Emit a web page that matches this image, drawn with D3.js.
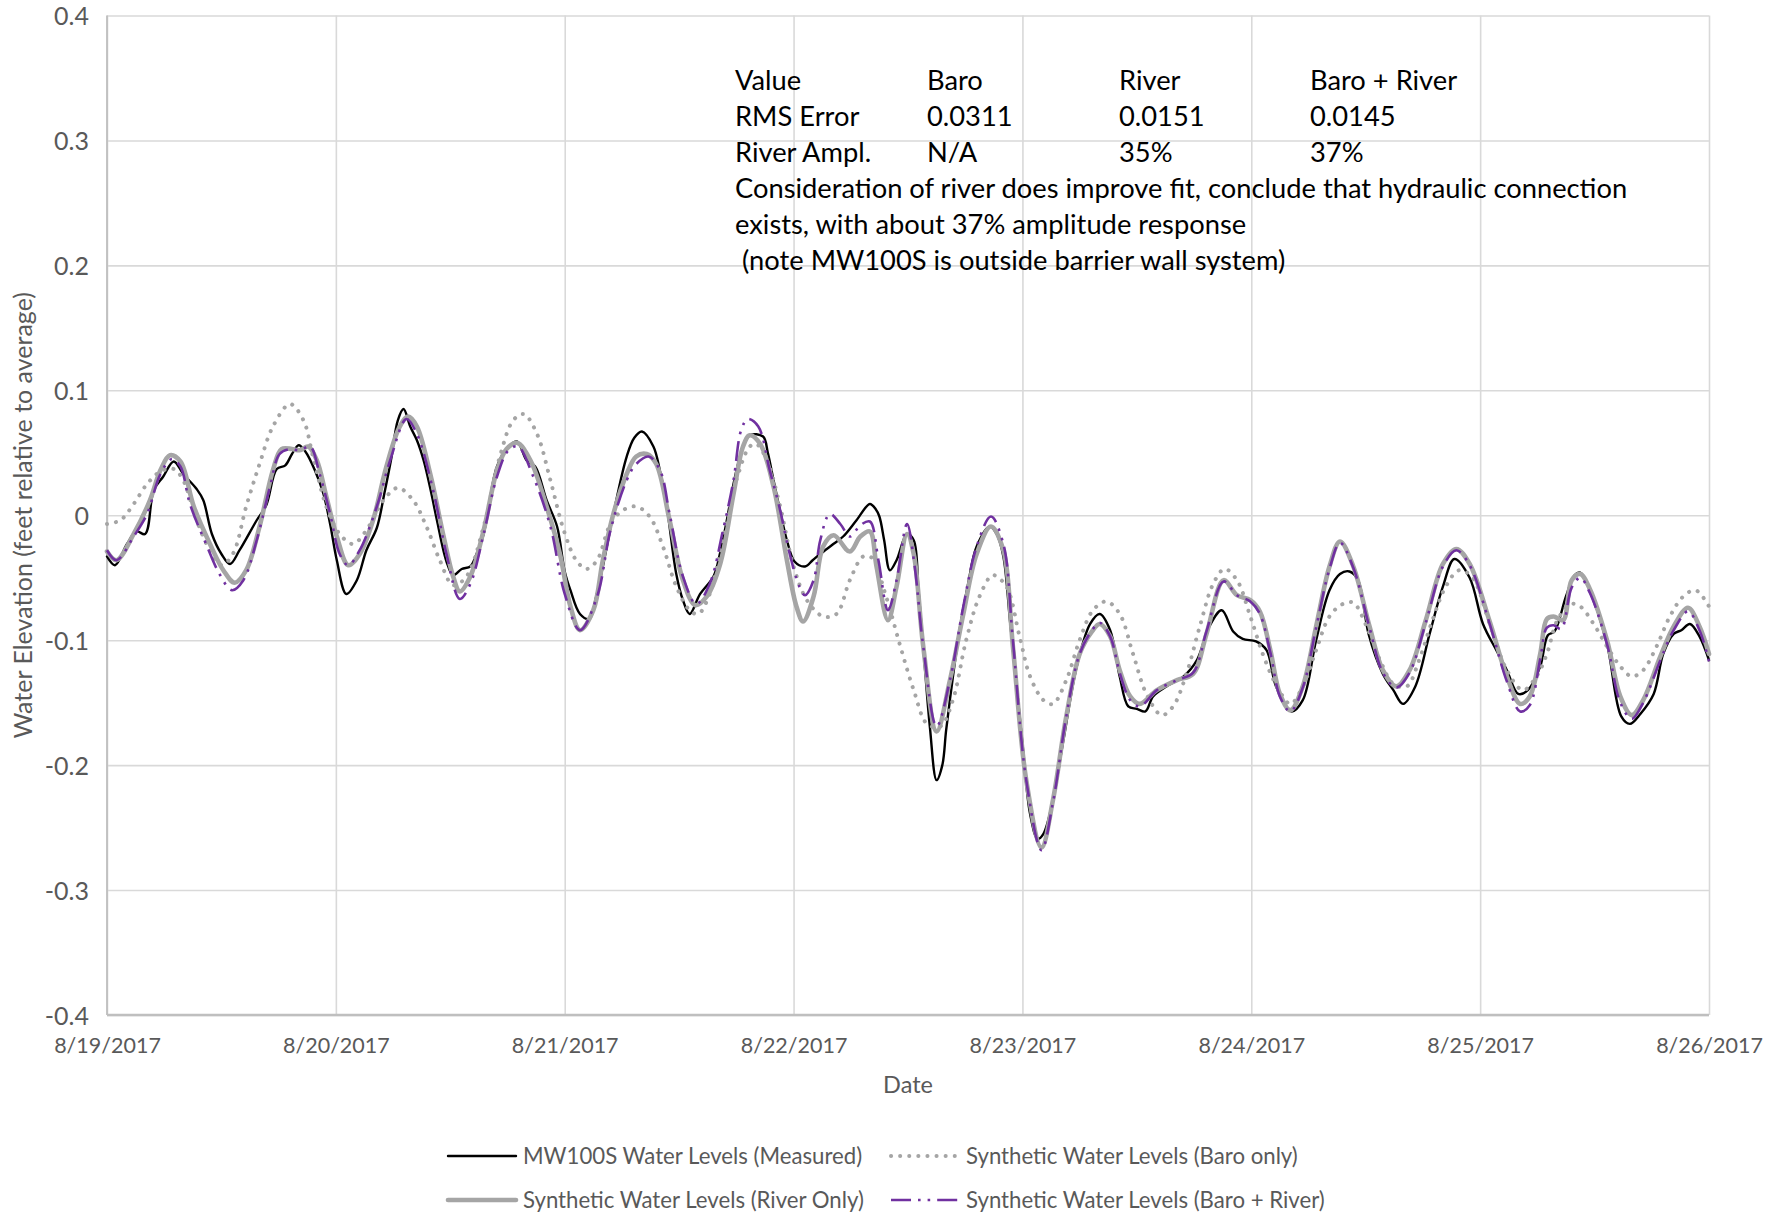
<!DOCTYPE html>
<html>
<head>
<meta charset="utf-8">
<script src="https://cdn.jsdelivr.net/npm/d3@7"></script>
<style>
  body { margin: 0; background: #fff; }
  text { font-family: Lato, "Open Sans", sans-serif; }
</style>
</head>
<body>
<div id="vis"></div>
<script>
// ---- data (hours after 8/19/2017 00:00, feet relative to average) ----
const hoursMeasured = [0,0.84,2.1,3.1,4.0,4.9,5.9,7.0,8.0,9.4,10.1,11.0,12.0,12.9,13.9,15.7,16.7,17.8,18.7,19.4,20.1,20.8,21.8,22.7,23.4,24.1,25.1,26.2,27.2,28.3,29.1,29.8,30.5,31.1,31.8,32.5,33.2,34.0,34.6,35.6,36.3,37.2,38.1,38.7,39.5,40.2,40.9,41.9,43.0,44.0,44.9,46.1,47.2,48.0,48.6,49.6,50.6,51.3,52.0,53.1,54.5,55.3,56.1,57.3,58.0,58.7,59.7,60.4,61.1,62.2,63.6,64.3,65.0,65.7,66.4,67.4,68.8,69.3,69.9,70.6,71.3,72.1,73.2,74.0,74.8,76.0,77.2,78.6,80.0,80.6,81.0,81.5,82.1,82.8,83.9,84.6,85.1,85.6,86.3,87.0,87.6,88.0,88.7,89.4,90.3,91.2,92.6,93.3,94.0,94.7,95.4,96.1,96.8,97.6,98.2,99.2,100.3,101.7,103.1,104.1,105.2,106.2,107.1,108.0,108.9,109.7,111.1,112.9,114.3,115.6,116.9,118.1,119.1,120.5,121.6,122.6,124.2,125.4,126.8,128.2,129.3,130.3,131.2,132.3,133.8,134.9,135.9,137.2,138.7,140.1,141.3,142.9,144.3,145.7,146.8,148.0,149.0,150.3,151.1,151.8,153.0,153.9,154.5,155.5,157.3,158.8,159.7,160.8,162.2,163.2,164.3,165.1,166.0,167.0,168.0];
const measured = [-0.033,-0.040,-0.023,-0.013,-0.015,0.020,0.031,0.043,0.033,0.021,0.012,-0.015,-0.031,-0.039,-0.028,-0.004,0.008,0.037,0.040,0.049,0.056,0.051,0.036,0.017,-0.007,-0.036,-0.063,-0.052,-0.028,-0.010,0.018,0.045,0.076,0.085,0.071,0.060,0.044,0.018,-0.004,-0.037,-0.048,-0.043,-0.041,-0.032,-0.015,0.015,0.039,0.053,0.059,0.044,0.039,0.012,-0.009,-0.045,-0.060,-0.079,-0.083,-0.065,-0.041,0.001,0.047,0.062,0.067,0.055,0.035,0.007,-0.047,-0.068,-0.079,-0.063,-0.049,-0.030,-0.004,0.025,0.047,0.064,0.063,0.050,0.028,0.003,-0.020,-0.037,-0.041,-0.036,-0.031,-0.024,-0.017,-0.004,0.009,0.005,-0.001,-0.020,-0.044,-0.036,-0.015,-0.020,-0.060,-0.105,-0.170,-0.212,-0.200,-0.172,-0.130,-0.092,-0.055,-0.025,-0.009,-0.015,-0.033,-0.085,-0.137,-0.190,-0.239,-0.259,-0.255,-0.228,-0.180,-0.121,-0.087,-0.079,-0.092,-0.129,-0.153,-0.155,-0.157,-0.145,-0.137,-0.129,-0.116,-0.089,-0.076,-0.093,-0.099,-0.101,-0.108,-0.137,-0.157,-0.148,-0.100,-0.060,-0.047,-0.045,-0.052,-0.095,-0.127,-0.140,-0.151,-0.137,-0.095,-0.057,-0.035,-0.050,-0.087,-0.108,-0.124,-0.143,-0.140,-0.121,-0.096,-0.093,-0.065,-0.048,-0.046,-0.060,-0.103,-0.161,-0.167,-0.159,-0.143,-0.111,-0.095,-0.092,-0.087,-0.097,-0.116];

const hoursBaro = [0,1.4,2.8,4.2,5.6,7.0,8.0,9.4,10.8,12.0,13.2,14.6,16.0,17.4,19.2,20.6,21.6,23.0,24.4,25.8,27.2,29.0,30.5,32.1,33.5,34.9,36.3,37.7,39.5,41.2,42.6,43.7,45.1,46.5,47.9,49.2,50.3,51.4,52.8,54.1,55.5,56.9,58.3,59.7,61.1,62.0,63.2,64.6,66.0,67.4,68.1,69.2,70.6,72.0,73.4,75.1,76.5,77.9,79.3,80.2,81.7,83.2,84.6,86.0,87.4,88.7,90.1,91.5,92.9,94.3,95.7,96.8,98.2,99.2,100.6,102.0,103.4,104.8,106.2,107.6,109.0,110.6,111.8,113.2,114.6,116.0,117.2,118.5,119.9,121.3,122.7,124.1,125.4,126.8,128.2,129.6,130.7,132.1,133.5,134.9,136.3,137.6,139.0,140.4,141.8,143.2,145.0,146.8,148.5,149.9,151.0,152.1,153.5,154.5,155.9,157.3,158.7,159.9,161.1,162.5,163.9,165.3,166.6,168.0];
const baroOnly = [-0.007,-0.004,0.009,0.025,0.035,0.037,0.028,-0.004,-0.028,-0.040,-0.031,0.007,0.041,0.071,0.089,0.076,0.047,0.007,-0.015,-0.023,-0.012,0.012,0.022,0.012,-0.009,-0.036,-0.056,-0.049,-0.009,0.047,0.076,0.081,0.065,0.028,-0.012,-0.036,-0.043,-0.036,-0.007,0.004,0.007,-0.001,-0.025,-0.057,-0.076,-0.079,-0.063,-0.017,0.028,0.055,0.057,0.044,0.007,-0.041,-0.068,-0.081,-0.079,-0.052,-0.033,-0.034,-0.065,-0.105,-0.140,-0.167,-0.169,-0.148,-0.100,-0.065,-0.048,-0.057,-0.097,-0.129,-0.148,-0.151,-0.132,-0.100,-0.076,-0.069,-0.079,-0.111,-0.143,-0.160,-0.153,-0.127,-0.089,-0.055,-0.043,-0.052,-0.081,-0.113,-0.137,-0.151,-0.137,-0.108,-0.081,-0.071,-0.070,-0.089,-0.116,-0.135,-0.137,-0.116,-0.084,-0.057,-0.044,-0.050,-0.087,-0.124,-0.140,-0.129,-0.111,-0.084,-0.071,-0.073,-0.087,-0.105,-0.121,-0.129,-0.124,-0.105,-0.081,-0.065,-0.060,-0.073];

const hoursRiver = [0,1.0,2.8,4.5,5.6,6.6,7.7,9.1,10.8,12.2,13.4,14.6,16.0,17.4,18.3,19.4,20.2,21.1,22.0,23.0,24.1,25.3,26.5,27.9,29.3,30.7,31.6,32.5,33.9,35.3,36.3,37.0,38.1,39.5,40.9,41.9,43.0,44.4,46.1,47.5,48.6,49.6,51.0,52.0,53.1,54.5,55.5,56.6,57.6,59.0,60.4,61.7,62.9,64.3,65.7,66.7,67.4,68.5,69.9,71.3,72.3,73.0,74.1,75.1,76.2,77.9,79.0,80.0,80.7,81.9,82.8,83.9,84.6,85.6,87.0,88.4,89.8,91.2,92.7,94.0,95.0,96.4,98.0,99.2,100.6,102.0,103.3,104.1,105.2,106.2,107.3,108.3,110.1,112.2,113.9,115.3,117.1,118.5,119.9,120.9,122.0,123.0,124.1,125.4,126.8,128.2,129.3,130.7,132.4,133.8,135.2,136.6,138.3,140.1,141.5,142.9,145.0,146.8,148.2,149.2,150.3,151.0,151.7,152.7,153.6,154.5,155.5,157.3,158.7,159.9,161.1,162.9,164.3,165.8,167.0,168.0];
const riverOnly = [-0.029,-0.036,-0.015,0.012,0.036,0.048,0.043,0.007,-0.023,-0.044,-0.054,-0.044,-0.009,0.036,0.053,0.053,0.052,0.055,0.044,0.015,-0.017,-0.040,-0.031,-0.004,0.039,0.071,0.079,0.071,0.033,-0.017,-0.049,-0.061,-0.049,-0.012,0.036,0.053,0.058,0.044,0.007,-0.031,-0.073,-0.092,-0.076,-0.036,0.001,0.033,0.047,0.049,0.041,-0.004,-0.052,-0.072,-0.065,-0.039,0.017,0.055,0.064,0.057,0.023,-0.036,-0.073,-0.085,-0.065,-0.025,-0.016,-0.029,-0.017,-0.013,-0.041,-0.084,-0.057,-0.015,-0.031,-0.105,-0.173,-0.132,-0.079,-0.031,-0.009,-0.028,-0.105,-0.212,-0.266,-0.228,-0.161,-0.111,-0.093,-0.087,-0.097,-0.124,-0.145,-0.151,-0.140,-0.132,-0.127,-0.095,-0.052,-0.064,-0.068,-0.077,-0.108,-0.143,-0.156,-0.137,-0.089,-0.041,-0.021,-0.041,-0.089,-0.124,-0.137,-0.124,-0.084,-0.039,-0.027,-0.039,-0.085,-0.129,-0.151,-0.145,-0.111,-0.083,-0.081,-0.084,-0.052,-0.047,-0.059,-0.100,-0.145,-0.160,-0.148,-0.113,-0.089,-0.074,-0.089,-0.111];

const hoursBaroRiver = [0,1.0,2.8,4.2,5.6,6.8,7.7,8.7,10.5,11.8,13.1,14.3,15.7,17.1,18.1,19.2,20.2,21.3,22.3,23.4,24.4,25.3,26.5,28.3,29.7,31.4,32.5,34.2,35.6,37.0,38.1,39.5,40.9,42.1,43.1,44.7,46.5,48.0,49.6,51.4,52.8,54.5,55.5,56.8,58.0,59.0,60.4,61.8,63.2,64.6,65.7,66.5,67.2,68.3,69.5,70.5,71.6,72.6,73.2,74.1,74.8,75.8,76.9,77.9,79.0,80.0,80.9,81.9,82.8,83.9,84.7,85.6,87.0,88.4,89.8,91.2,92.7,94.0,95.0,96.4,98.0,99.2,100.6,102.0,103.3,104.1,105.2,106.2,107.3,108.3,110.1,112.2,113.9,115.3,117.1,118.5,119.9,120.9,122.0,123.0,124.1,125.4,126.8,128.2,129.3,130.7,132.4,133.8,135.2,136.6,138.3,140.1,141.5,142.9,145.0,146.8,148.2,149.2,150.3,151.0,151.7,152.5,153.6,154.5,155.5,157.3,158.7,159.9,161.1,162.9,164.3,165.8,167.0,168.0];
const baroRiver = [-0.028,-0.036,-0.017,0.001,0.033,0.045,0.039,0.009,-0.025,-0.047,-0.060,-0.052,-0.020,0.023,0.049,0.053,0.052,0.055,0.033,0.001,-0.031,-0.040,-0.028,0.007,0.044,0.077,0.065,0.020,-0.031,-0.067,-0.055,-0.015,0.031,0.052,0.055,0.031,-0.009,-0.063,-0.092,-0.065,-0.012,0.028,0.041,0.047,0.036,0.001,-0.049,-0.071,-0.055,-0.012,0.028,0.068,0.077,0.071,0.036,0.007,-0.031,-0.057,-0.064,-0.052,-0.020,0.001,-0.007,-0.017,-0.008,-0.005,-0.036,-0.076,-0.052,-0.007,-0.041,-0.105,-0.169,-0.132,-0.073,-0.025,-0.001,-0.023,-0.100,-0.212,-0.268,-0.230,-0.161,-0.111,-0.092,-0.086,-0.097,-0.126,-0.148,-0.153,-0.140,-0.132,-0.126,-0.093,-0.053,-0.064,-0.069,-0.079,-0.110,-0.145,-0.157,-0.138,-0.090,-0.043,-0.022,-0.042,-0.090,-0.126,-0.138,-0.126,-0.086,-0.041,-0.028,-0.040,-0.087,-0.133,-0.157,-0.152,-0.115,-0.090,-0.088,-0.091,-0.058,-0.050,-0.062,-0.103,-0.150,-0.163,-0.150,-0.116,-0.092,-0.077,-0.092,-0.117];

const seriesNames = ["MW100S Water Levels (Measured)", "Synthetic Water Levels (Baro only)",
                     "Synthetic Water Levels (River Only)", "Synthetic Water Levels (Baro + River)"];
const yTicks = [-0.4, -0.3, -0.2, -0.1, 0, 0.1, 0.2, 0.3, 0.4];
const yTickLabels = ["-0.4", "-0.3", "-0.2", "-0.1", "0", "0.1", "0.2", "0.3", "0.4"];
const tableRows = [["Value", "Baro", "River", "Baro + River"],
                   ["RMS Error", "0.0311", "0.0151", "0.0145"],
                   ["River Ampl.", "N/A", "35%", "37%"]];
const noteLines = ["Consideration of river does improve fit, conclude that hydraulic connection",
                   "exists, with about 37% amplitude response",
                   " (note MW100S is outside barrier wall system)"];

// ---- frame ----
const FRAME_WIDTH = 1782;
const FRAME_HEIGHT = 1216;
const MARGINS = {left: 107, right: 73, top: 15.5, bottom: 201};
const VIS_WIDTH = FRAME_WIDTH - MARGINS.left - MARGINS.right;
const VIS_HEIGHT = FRAME_HEIGHT - MARGINS.top - MARGINS.bottom;

const START = new Date(2017, 7, 19);
const END = new Date(2017, 7, 26);
const toDate = (h) => new Date(START.getTime() + h * 3600 * 1000);

const FRAME = d3.select("#vis")
  .append("svg")
    .attr("width", FRAME_WIDTH)
    .attr("height", FRAME_HEIGHT)
    .style("background", "#fff");

const X_SCALE = d3.scaleTime().domain([START, END]).range([MARGINS.left, MARGINS.left + VIS_WIDTH]);
const Y_SCALE = d3.scaleLinear().domain([-0.4, 0.4]).range([MARGINS.top + VIS_HEIGHT, MARGINS.top]);

// gridlines
FRAME.append("g")
  .attr("transform", "translate(" + MARGINS.left + ",0)")
  .call(d3.axisLeft(Y_SCALE).tickValues(yTicks).tickSize(-VIS_WIDTH).tickFormat(""))
  .call(g => g.select(".domain").remove())
  .selectAll("line").attr("stroke", "#d9d9d9").attr("stroke-width", 1.6);

FRAME.append("g")
  .attr("transform", "translate(0," + (MARGINS.top + VIS_HEIGHT) + ")")
  .call(d3.axisBottom(X_SCALE).ticks(d3.timeDay.every(1)).tickSize(-VIS_HEIGHT).tickFormat(""))
  .call(g => g.select(".domain").remove())
  .selectAll("line").attr("stroke", "#d9d9d9").attr("stroke-width", 1.6);

// axis lines
FRAME.append("line")
  .attr("x1", MARGINS.left).attr("x2", MARGINS.left)
  .attr("y1", MARGINS.top).attr("y2", MARGINS.top + VIS_HEIGHT)
  .attr("stroke", "#bfbfbf").attr("stroke-width", 1.8);
FRAME.append("line")
  .attr("x1", MARGINS.left).attr("x2", MARGINS.left + VIS_WIDTH)
  .attr("y1", MARGINS.top + VIS_HEIGHT).attr("y2", MARGINS.top + VIS_HEIGHT)
  .attr("stroke", "#bfbfbf").attr("stroke-width", 2.6);

// tick labels
const yAxis = FRAME.append("g")
  .attr("transform", "translate(" + (MARGINS.left - 15) + ",0)")
  .call(d3.axisLeft(Y_SCALE).tickValues(yTicks).tickSize(0)
        .tickFormat((d, i) => yTickLabels[i]));
yAxis.select(".domain").remove();
yAxis.selectAll("text").attr("fill", "#595959").attr("font-size", "25px")
  .attr("font-family", "Lato, sans-serif").attr("dy", "0.36em");

const xAxis = FRAME.append("g")
  .attr("transform", "translate(0," + (MARGINS.top + VIS_HEIGHT + 20) + ")")
  .call(d3.axisBottom(X_SCALE).ticks(d3.timeDay.every(1)).tickSize(0)
        .tickFormat(d3.timeFormat("%-m/%-d/%Y")));
xAxis.select(".domain").remove();
xAxis.selectAll("text").attr("fill", "#595959").attr("font-size", "21.5px")
  .attr("font-family", "Lato, sans-serif");

// axis titles
FRAME.append("text")
  .attr("x", MARGINS.left + VIS_WIDTH / 2).attr("y", 1093)
  .attr("text-anchor", "middle").attr("fill", "#595959").attr("font-size", "23.5px")
  .text("Date");
FRAME.append("text")
  .attr("transform", "translate(32," + (MARGINS.top + VIS_HEIGHT / 2) + ") rotate(-90)")
  .attr("text-anchor", "middle").attr("fill", "#595959").attr("font-size", "25px")
  .text("Water Elevation (feet relative to average)");

// series
const toPoints = (hours, vals) => hours.map((h, i) => ({t: toDate(h), v: vals[i]}));
const series = [
  toPoints(hoursMeasured, measured),
  toPoints(hoursBaro, baroOnly),
  toPoints(hoursRiver, riverOnly),
  toPoints(hoursBaroRiver, baroRiver)
];
const STYLES = [
  {stroke: "#000000", width: 2.4, dash: null, cap: "round"},
  {stroke: "#a5a5a5", width: 4, dash: "0.1 9", cap: "round"},
  {stroke: "#a5a5a5", width: 4.6, dash: null, cap: "round"},
  {stroke: "#7030a0", width: 2.6, dash: "20 7 2.6 7 2.6 7", cap: "butt"}
];

const LINE = d3.line()
  .x(d => X_SCALE(d.t))
  .y(d => Y_SCALE(d.v))
  .curve(d3.curveCatmullRom.alpha(0.5));

FRAME.selectAll(".series")
  .data(series)
  .enter()
  .append("path")
    .attr("class", "series")
    .attr("d", d => LINE(d))
    .attr("fill", "none")
    .attr("stroke", (d, i) => STYLES[i].stroke)
    .attr("stroke-width", (d, i) => STYLES[i].width)
    .attr("stroke-dasharray", (d, i) => STYLES[i].dash)
    .attr("stroke-linecap", (d, i) => STYLES[i].cap)
    .attr("stroke-linejoin", "round");

// annotation
const colX = [735, 927, 1119, 1310];
tableRows.forEach((row, r) => {
  row.forEach((cell, c) => {
    FRAME.append("text")
      .attr("x", colX[c]).attr("y", 90 + r * 36)
      .attr("font-size", "27.3px").attr("fill", "#000")
      .text(cell);
  });
});
noteLines.forEach((line, i) => {
  FRAME.append("text")
    .attr("x", colX[0]).attr("y", 90 + (tableRows.length + i) * 36)
    .attr("font-size", "27.3px").attr("fill", "#000")
    .style("white-space", "pre")
    .text(line);
});

// legend
const legendPos = [[448, 1156], [891, 1156], [448, 1200], [891, 1200]];
const legend = FRAME.selectAll(".legend")
  .data(seriesNames)
  .enter()
  .append("g")
    .attr("class", "legend")
    .attr("transform", (d, i) => "translate(" + legendPos[i][0] + "," + legendPos[i][1] + ")");
legend.append("line")
  .attr("x1", 0).attr("x2", 68).attr("y1", 0).attr("y2", 0)
  .attr("stroke", (d, i) => STYLES[i].stroke)
  .attr("stroke-width", (d, i) => STYLES[i].width)
  .attr("stroke-dasharray", (d, i) => STYLES[i].dash)
  .attr("stroke-linecap", (d, i) => STYLES[i].cap);
legend.append("text")
  .attr("x", 75).attr("y", 0).attr("dy", "0.36em")
  .attr("font-size", "22.2px").attr("fill", "#595959")
  .text(d => d);
</script>
</body>
</html>
